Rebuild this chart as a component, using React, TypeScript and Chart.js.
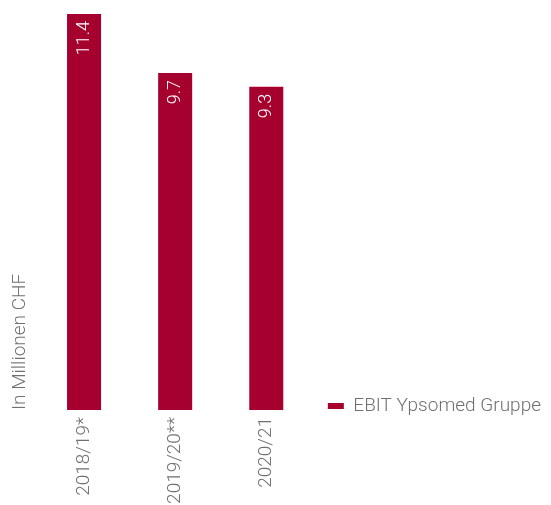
import React, { useEffect, useRef } from "react";
import { Chart, registerables } from "chart.js";

Chart.register(...registerables);

const categories: string[] = ["2018/19*", "2019/20**", "2020/21"];
const ebitValues: number[] = [11.4, 9.7, 9.3];
const seriesLabel = "EBIT Ypsomed Gruppe";
const yAxisTitle = "In Millionen CHF";

const BAR_COLOR = "#a6002e";
const TEXT_COLOR = "#707070";
const FONT_FAMILY = "Roboto, 'Liberation Sans', sans-serif";

const valueLabelPlugin = {
  id: "valueLabels",
  afterDatasetsDraw(chart: any) {
    const ctx = chart.ctx;
    const meta = chart.getDatasetMeta(0);
    const data = chart.data.datasets[0].data as number[];
    ctx.save();
    ctx.fillStyle = "#ffffff";
    ctx.font = `300 18px ${FONT_FAMILY}`;
    ctx.textAlign = "right";
    ctx.textBaseline = "middle";
    meta.data.forEach((bar: any, i: number) => {
      ctx.save();
      ctx.translate(bar.x, bar.y + 7);
      ctx.rotate(-Math.PI / 2);
      ctx.fillText(data[i].toFixed(1), 0, 0);
      ctx.restore();
    });
    ctx.restore();
  },
};

// Align the legend row with the baseline of the bars.
const legendPlacePlugin = {
  id: "legendPlace",
  afterLayout(chart: any) {
    const lg = chart.legend;
    if (!lg) return;
    const target = chart.chartArea.bottom + 21.5;
    const shift = target - lg.bottom;
    lg.top += shift;
    lg.bottom += shift;
  },
};

export default function App() {
  const canvasRef = useRef<HTMLCanvasElement | null>(null);

  useEffect(() => {
    if (!canvasRef.current) return;
    const chart = new Chart(canvasRef.current, {
      type: "bar",
      data: {
        labels: categories,
        datasets: [
          {
            label: seriesLabel,
            data: ebitValues,
            backgroundColor: BAR_COLOR,
            borderWidth: 0,
            barPercentage: 0.747,
            categoryPercentage: 0.5,
          },
        ],
      },
      options: {
        responsive: false,
        animation: false,
        layout: { padding: { left: 0, right: 0, top: 0, bottom: 0 } },
        plugins: {
          tooltip: { enabled: false },
          legend: {
            position: "right",
            align: "end",
            fullSize: false,
            maxWidth: 300,
            labels: {
              boxWidth: 16,
              boxHeight: 6,
              padding: 16,
              color: TEXT_COLOR,
              font: { family: FONT_FAMILY, size: 19, weight: "300" as any },
            },
          } as any,
        },
        scales: {
          x: {
            grid: { display: false, drawTicks: false },
            border: { display: false },
            ticks: {
              color: TEXT_COLOR,
              minRotation: 90,
              maxRotation: 90,
              padding: 7,
              autoSkip: false,
              font: { family: FONT_FAMILY, size: 19, weight: "300" as any },
            },
            afterFit: (scale: any) => {
              scale.height = 95;
            },
          },
          y: {
            min: 0,
            max: 11.8,
            grid: { display: false, drawTicks: false },
            border: { display: false },
            ticks: { display: false },
            title: {
              display: true,
              text: yAxisTitle,
              align: "start",
              color: TEXT_COLOR,
              padding: { top: 8.5, bottom: 4 },
              font: { family: FONT_FAMILY, size: 19, weight: "300" as any },
            },
            afterFit: (scale: any) => {
              scale.width = 38.5;
            },
          },
        },
      },
      plugins: [valueLabelPlugin, legendPlacePlugin],
    });
    return () => chart.destroy();
  }, []);

  return (
    <div style={{ position: "absolute", left: 0, top: 0, width: 551, height: 505 }}>
      <canvas ref={canvasRef} width={551} height={505} style={{ display: "block" }} />
    </div>
  );
}
